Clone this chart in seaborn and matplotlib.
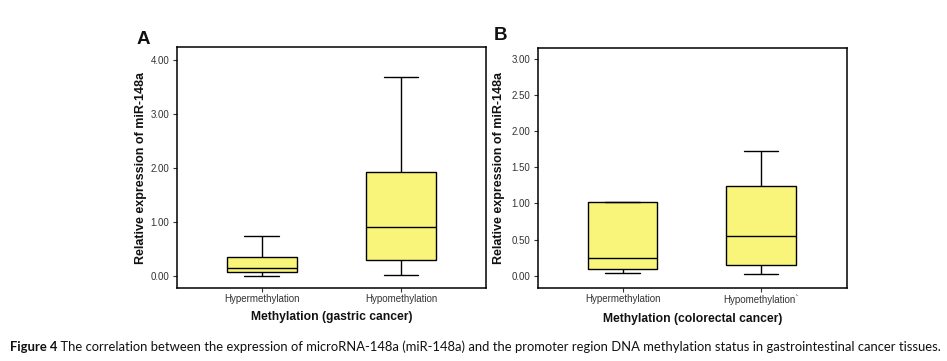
import matplotlib
matplotlib.use("Agg")
import matplotlib.pyplot as plt
import seaborn as sns
import pandas as pd

# ---- data (five-number summaries: min, Q1, median, Q3, max)
groups_a = ["Hypermethylation", "Hypomethylation"]
hyper_a = [0.00, 0.074, 0.15, 0.35, 0.74]
hypo_a = [0.02, 0.30, 0.91, 1.93, 3.69]

groups_b = ["Hypermethylation", "Hypomethylation`"]
hyper_b = [0.037, 0.092, 0.245, 1.015, 1.015]
hypo_b = [0.023, 0.148, 0.55, 1.24, 1.726]

yticks_a = [0.0, 1.0, 2.0, 3.0, 4.0]
yticks_b = [0.0, 0.5, 1.0, 1.5, 2.0, 2.5, 3.0]

ylabel = "Relative expression of miR-148a"
xlabel_a = "Methylation (gastric cancer)"
xlabel_b = "Methylation (colorectal cancer)"
caption_bold = "Figure 4"
caption_rest = (" The correlation between the expression of microRNA-148a (miR-148a) and the "
                "promoter region DNA methylation status in gastrointestinal cancer tissues.")

sns.set_style("white")
plt.rcParams["font.family"] = ["Liberation Sans", "DejaVu Sans"]

W, H = 947, 361
fig = plt.figure(figsize=(W / 100, H / 100), dpi=100)


def px_axes(left, right, top, bottom):
    return fig.add_axes([left / W, (H - bottom) / H, (right - left) / W, (bottom - top) / H])


YELLOW = "#F8F57A"


def panel(ax, groups, a, b, yticks, ylim, xlim, xlabel, ylabel_x, xlabel_y):
    df = pd.DataFrame({
        "group": [groups[0]] * len(a) + [groups[1]] * len(b),
        "value": list(a) + list(b),
    })
    sns.boxplot(data=df, x="group", y="value", order=groups, ax=ax, color=YELLOW,
                saturation=1, width=0.5, whis=(0, 100), linecolor="black",
                linewidth=1.0, fliersize=0)
    ax.set_ylim(*ylim)
    ax.set_xlim(*xlim)
    ax.set_yticks(yticks)
    ax.set_yticklabels([f"{t:.2f}" for t in yticks])
    ax.tick_params(axis="both", which="major", direction="out", length=3, width=0.8,
                   color="#333333", labelsize=7, labelcolor="#333333", pad=2.5,
                   left=True, bottom=True)
    ax.tick_params(axis="x", pad=1.5)
    for s in ax.spines.values():
        s.set_visible(True)
        s.set_color("black")
        s.set_linewidth(1.1)
    ax.set_xlabel(xlabel, fontsize=8.7, fontweight="bold", color="#111111")
    ax.set_ylabel(ylabel, fontsize=9, fontweight="bold", color="#111111")
    ax.xaxis.set_label_coords(0.5, xlabel_y)
    ax.yaxis.set_label_coords(ylabel_x, 0.5)


ax_a = px_axes(177, 486, 47, 288)
panel(ax_a, groups_a, hyper_a, hypo_a, yticks_a, (-0.22, 4.25), (-0.608, 1.61),
      xlabel_a, -0.0955, -0.095)

ax_b = px_axes(538, 847, 47.5, 288)
panel(ax_b, groups_b, hyper_b, hypo_b, yticks_b, (-0.171, 3.16), (-0.61, 1.62),
      xlabel_b, -0.107, -0.104)

fig.text(137 / W, (H - 44) / H, "A", fontsize=13.5, fontweight="bold", color="#111111")
fig.text(494 / W, (H - 40.5) / H, "B", fontsize=13.5, fontweight="bold", color="#111111")

# caption: choose a font size so the line runs from x=10 to x=940 px
cap_y = (H - 351) / H
cap_fam = ["Lato", "DejaVu Sans"]
renderer = fig.canvas.get_renderer()


def caption_width(fs):
    t1 = fig.text(0, 0, caption_bold, fontsize=fs, fontweight="bold", family=cap_fam)
    t2 = fig.text(0, 0, caption_rest, fontsize=fs, family=cap_fam)
    w = t1.get_window_extent(renderer=renderer).width + t2.get_window_extent(renderer=renderer).width
    t1.remove()
    t2.remove()
    return w


fs = 9.5
for _ in range(3):
    fs = fs * 930 / caption_width(fs)

t1 = fig.text(10 / W, cap_y, caption_bold, fontsize=fs, fontweight="bold",
              family=cap_fam, color="#111111")
bb = t1.get_window_extent(renderer=renderer)
fig.text(bb.x1 / W, cap_y, caption_rest, fontsize=fs, family=cap_fam, color="#111111")

fig.savefig("out.png", dpi=100)
